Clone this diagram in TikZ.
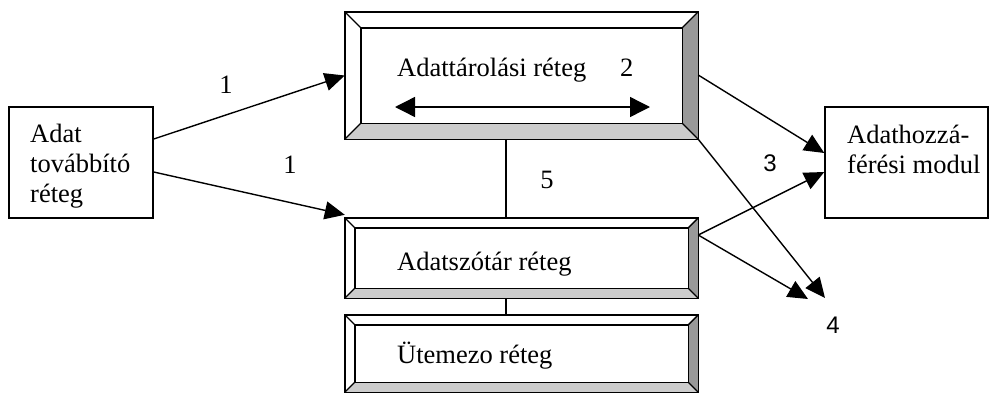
\documentclass[tikz,border=0pt]{standalone}
\usepackage{fontspec}
\setmainfont{Liberation Serif}
\newfontfamily\sansf{Liberation Sans}
\usetikzlibrary{arrows.meta,calc}
\definecolor{bevdark}{HTML}{999999}
\definecolor{bevlight}{HTML}{CCCCCC}
\tikzset{
  lw/.style={line width=1.4pt},
  plainbox/.style={draw, lw, inner sep=0pt, fill=white},
  txt/.style={font=\fontsize{26.5}{30}\selectfont, inner sep=0pt, anchor=base west, align=left},
  num/.style={font=\fontsize{26.5}{30}\selectfont, inner sep=0pt},
  snum/.style={font=\sansf\fontsize{24}{28}\selectfont, inner sep=0pt},
  conn/.style={lw, -{Triangle[length=20pt,width=18pt]}},
  dbl/.style={lw, {Triangle[length=20pt,width=20pt]}-{Triangle[length=20pt,width=20pt]}},
}
\newcommand\bevelbox[2]{%
  \fill[bevdark] (#1.north east) -- (#1.south east) -- ($(#1.south east)+(-#2pt,#2pt)$) -- ($(#1.north east)+(-#2pt,-#2pt)$) -- cycle;
  \fill[bevlight] (#1.south west) -- (#1.south east) -- ($(#1.south east)+(-#2pt,#2pt)$) -- ($(#1.south west)+(#2pt,#2pt)$) -- cycle;
  \draw[lw] (#1.north west) rectangle (#1.south east);
  \draw[lw] ($(#1.north west)+(#2pt,-#2pt)$) rectangle ($(#1.south east)+(-#2pt,#2pt)$);
  \draw[lw] (#1.north west) -- ++(#2pt,-#2pt);
  \draw[lw] (#1.north east) -- ++(-#2pt,-#2pt);
  \draw[lw] (#1.south west) -- ++(#2pt,#2pt);
  \draw[lw] (#1.south east) -- ++(-#2pt,#2pt);
}
\begin{document}
\begin{tikzpicture}[x=1pt,y=-1pt]
\useasboundingbox (0,0) rectangle (991,394);
% boxes
\node[plainbox, minimum width=144pt, minimum height=111pt] (send) at (81,162.5) {};
\node[plainbox, minimum width=163pt, minimum height=111pt] (access) at (906.5,162.5) {};
\node[inner sep=0pt, minimum width=353pt, minimum height=127pt] (store) at (521.5,75.5) {};
\node[inner sep=0pt, minimum width=353pt, minimum height=80pt] (dict) at (521.5,258) {};
\node[inner sep=0pt, minimum width=353pt, minimum height=77pt] (sched) at (521.5,353.5) {};
\bevelbox{store}{16}
\bevelbox{dict}{10}
\bevelbox{sched}{10}
% texts
\node[txt] (sendtxt) at (30,202) {Adat\\továbbító\\réteg};
\node[txt] (accesstxt) at (847,173) {Adathozzá-\\férési modul};
\node[txt] (storetxt) at (397,76) {Adattárolási réteg};
\node[txt] (two) at (620,76) {2};
\node[txt] (dicttxt) at (397,270) {Adatszótár réteg};
\node[txt] (schedtxt) at (397,363) {Ütemezo réteg};
% inner double arrow
\coordinate (da) at (395,107);
\coordinate (db) at (650,107);
\draw[dbl] (da) -- (db);
% vertical links
\draw[lw] ($(store.south)+(-15.5pt,0)$) -- ($(dict.north)+(-15.5pt,0)$);
\draw[lw] ($(dict.south)+(-15.5pt,0)$) -- ($(sched.north)+(-15.5pt,0)$);
% connectors
\draw[conn] ($(send.east)+(0,23.5pt)$) -- (store.west);
\draw[conn] ($(send.east)+(0,-9.5pt)$) -- ($(dict.north west)+(0,3pt)$);
\draw[conn] ($(store.east)+(0,0.5pt)$) -- ($(access.west)+(0,9.5pt)$);
\draw[conn] ($(dict.east)+(0,23pt)$) -- ($(access.west)+(0,-9.5pt)$);
\coordinate (f1) at (825,298);
\coordinate (f2) at (808,299);
\draw[conn] (store.south east) -- (f1);
\draw[conn] ($(dict.east)+(0,23pt)$) -- (f2);
% labels
\node[num] (l1a) at (226,85) {1};
\node[num] (l1b) at (290,165) {1};
\node[num] (l5) at (547,180) {5};
\node[snum] (l3) at (770,163) {3};
\node[snum] (l4) at (833,325) {4};
\end{tikzpicture}
\end{document}
